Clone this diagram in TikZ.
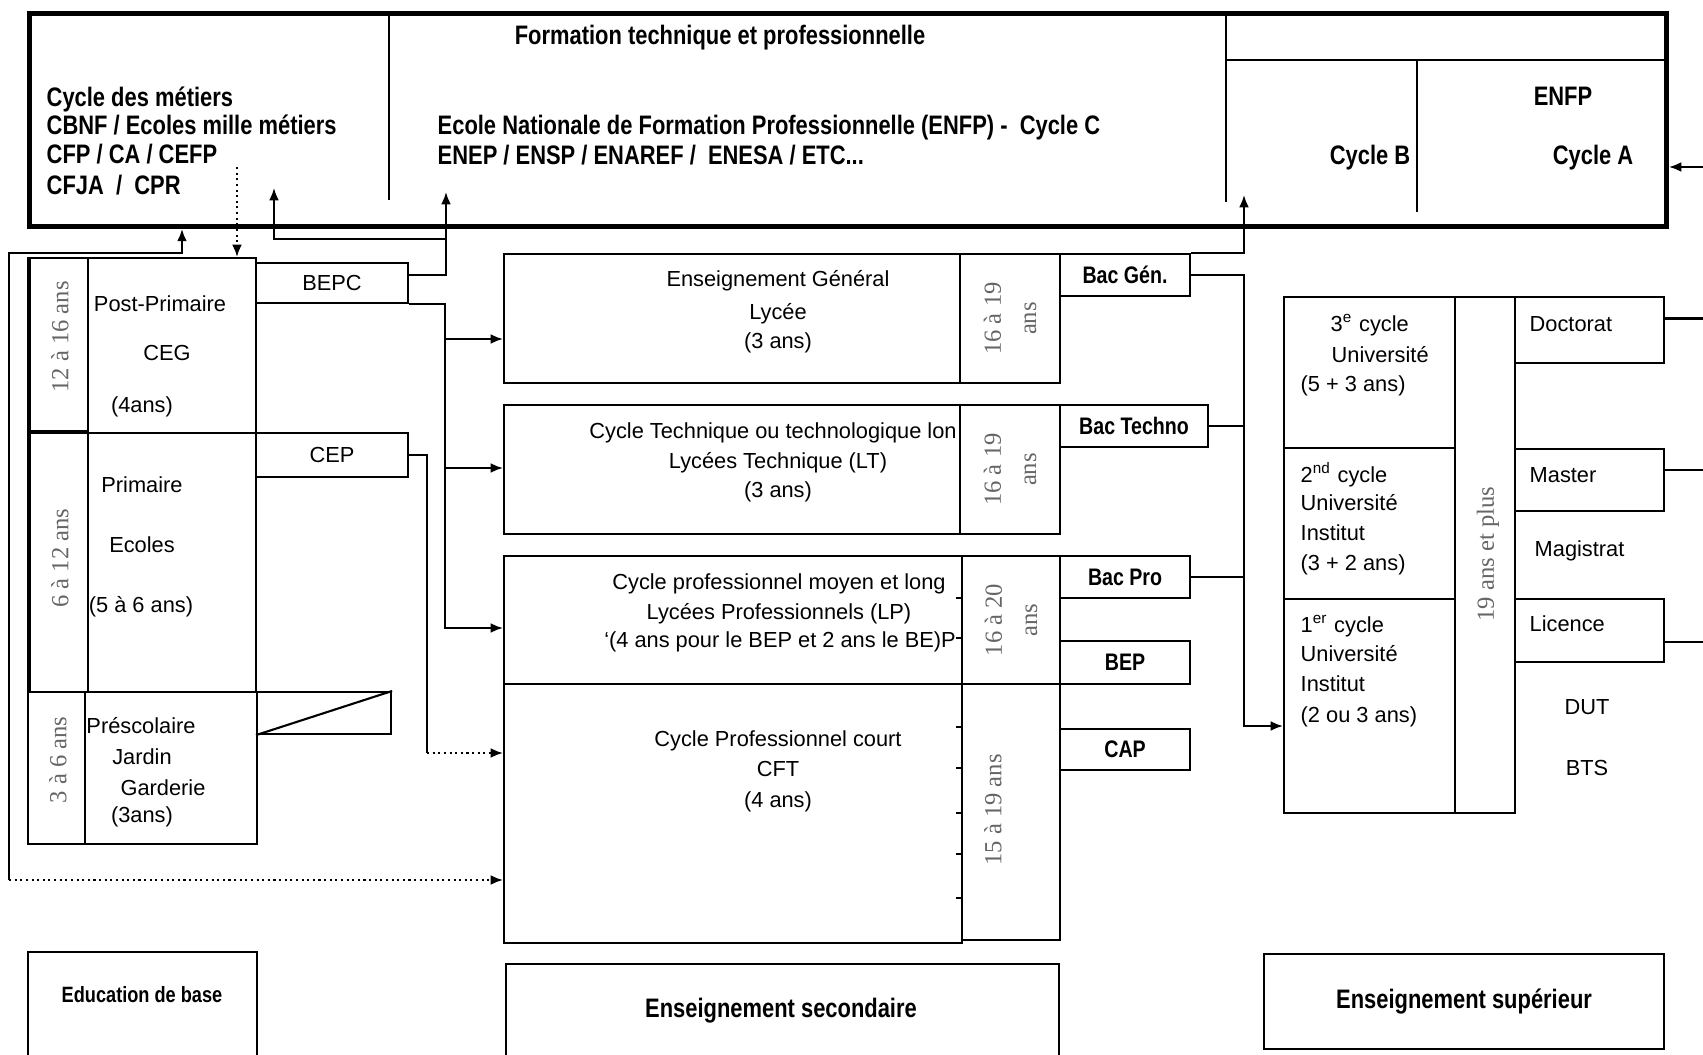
\documentclass[tikz,border=0pt]{standalone}
\usepackage{fontspec}
\setmainfont{Liberation Sans}
\newfontfamily\narrowbf[FakeStretch=0.82]{Liberation Sans Bold}
\newfontfamily\agefont{Liberation Serif}
\usetikzlibrary{arrows.meta,calc}
\definecolor{agegray}{gray}{0.4}

\begin{document}
\begin{tikzpicture}[x=0.01cm, y=-0.01cm,
  box/.style={draw, line width=0.6pt, anchor=north west, inner sep=0pt},
  wh/.style 2 args={minimum width=#1*0.01cm, minimum height=#2*0.01cm},
  txt/.style={font=\fontsize{6.2}{7.5}\selectfont, inner sep=0pt, anchor=mid},
  btxt/.style={font=\narrowbf\fontsize{7.6}{9}\selectfont, inner sep=0pt, anchor=mid},
  bactxt/.style={font=\narrowbf\fontsize{6.8}{8}\selectfont},
  age/.style={font=\agefont\fontsize{7}{10}\selectfont, text=agegray, rotate=90, align=center, inner sep=0pt},
  conn/.style={line width=0.6pt},
  dotline/.style={line width=0.6pt, densely dotted},
  arr/.style={-{Latex[length=3.5pt,width=2.8pt]}}
]
\useasboundingbox (0,0) rectangle (1703,1055);
\fill[white] (0,0) rectangle (1703,1055);

% Formation technique et professionnelle
\node[box, wh={1637}{213}, line width=1.4pt] (topbox) at (27,11) {};
\draw[conn] (389,11) -- (389,200);
\draw[conn] (1226,11) -- (1226,202);
\draw[conn] (1226,60) -- (1664,60);
\draw[conn] (1417,60) -- (1417,212);
\node[btxt] (ftp) at (720,35) {Formation technique et professionnelle};
\node[btxt, anchor=mid west] (met1) at (46,97) {Cycle des métiers};
\node[btxt, anchor=mid west] (met2) at (46,125) {CBNF / Ecoles mille métiers};
\node[btxt, anchor=mid west] (met3) at (46,154) {CFP / CA / CEFP};
\node[btxt, anchor=mid west] (met4) at (46,185) {CFJA\ \ /\ \ CPR};
\node[btxt, anchor=mid west] (enfp1) at (437,125) {Ecole Nationale de Formation Professionnelle (ENFP) -\ \ Cycle C};
\node[btxt, anchor=mid west] (enfp2) at (437,155) {ENEP / ENSP / ENAREF /\ \ ENESA / ETC...};
\node[btxt] (enfp) at (1563,96) {ENFP};
\node[btxt] (cycb) at (1370,155) {Cycle B};
\node[btxt] (cyca) at (1593,155) {Cycle A};

% Education de base
\node[box, wh={58}{175}] (agea) at (29,257) {};
\node[box, wh={168}{175}] (postp) at (87,257) {};
\node[box, wh={58}{259}] (ageb) at (29,432) {};
\node[box, wh={168}{259}] (prim) at (87,432) {};
\node[box, wh={57}{152}] (agec) at (27,691) {};
\node[box, wh={172}{152}] (presc) at (84,691) {};
\draw[line width=1.2pt] (29,257) -- (29,691);
\draw[line width=1.2pt] (29,432) -- (87,432);
\node[txt, box, wh={152}{40}] (bepc) at (255,262) {BEPC};
\node[txt, box, wh={152}{44}] (cep) at (255,432) {CEP};
\node[box, wh={134}{42}] (pside) at (256,691) {};
\draw[conn] (pside.south west) -- (pside.north east);
\node[age] (agea-t) at (60,337) {12 à 16 ans};
\node[age] (ageb-t) at (60,558) {6 à 12 ans};
\node[age] (agec-t) at (58,760) {3 à 6 ans};
\node[txt] (pp1) at (160,302) {Post-Primaire};
\node[txt] (pp2) at (167,351) {CEG};
\node[txt] (pp3) at (142,403) {(4ans)};
\node[txt] (pr1) at (142,483) {Primaire};
\node[txt] (pr2) at (142,543) {Ecoles};
\node[txt] (pr3) at (141,603) {(5 à 6 ans)};
\node[txt] (ps1) at (141,724) {Préscolaire};
\node[txt] (ps2) at (142,755) {Jardin};
\node[txt] (ps3) at (163,786) {Garderie};
\node[txt] (ps4) at (142,813) {(3ans)};
\node[box, wh={229}{130}] (basebox) at (27,951) {};
\node[btxt, font=\narrowbf\fontsize{6.3}{7}\selectfont] (base-t) at (142,993) {Education de base};

% Enseignement secondaire
\node[box, wh={456}{129}] (eg) at (503,253) {};
\node[box, wh={100}{129}] (egage) at (959,253) {};
\node[box, wh={456}{129}] (ct) at (503,404) {};
\node[box, wh={100}{129}] (ctage) at (959,404) {};
\node[box, wh={458}{128}] (cp) at (503,555) {};
\node[box, wh={98}{128}] (cpage) at (961,555) {};
\node[box, wh={458}{259}] (cpc) at (503,683) {};
\node[box, wh={98}{256}] (cpcage) at (961,683) {};
\foreach \ty in {598,638,727,768,813,854,898}
  \draw[conn] (956,\ty) -- (961,\ty);
\node[txt] (eg1) at (778,277) {Enseignement Général};
\node[txt] (eg2) at (778,310) {Lycée};
\node[txt] (eg3) at (778,339) {(3 ans)};
\node[txt] (ct1) at (773,429) {Cycle Technique ou technologique lon};
\node[txt] (ct2) at (778,459) {Lycées Technique (LT)};
\node[txt] (ct3) at (778,488) {(3 ans)};
\node[txt] (cp1) at (779,580) {Cycle professionnel moyen et long};
\node[txt] (cp2) at (779,610) {Lycées Professionnels (LP)};
\node[txt] (cp3) at (780,638) {‘(4 ans pour le BEP et 2 ans le BE)P};
\node[txt] (cpc1) at (778,737) {Cycle Professionnel court};
\node[txt] (cpc2) at (778,767) {CFT};
\node[txt] (cpc3) at (778,798) {(4 ans)};
\node[age] (egage-t) at (egage.center) {16 à 19\\ans};
\node[age] (ctage-t) at (ctage.center) {16 à 19\\ans};
\node[age] (cpage-t) at (cpage.center) {16 à 20\\ans};
\node[age] (cpcage-t) at (993,810) {15 à 19 ans};
\node[bactxt, box, wh={130}{42}] (bacgen) at (1059,253) {Bac Gén.};
\node[bactxt, box, wh={148}{42}] (bactech) at (1059,404) {Bac Techno};
\node[bactxt, box, wh={130}{42}] (bacpro) at (1059,555) {Bac Pro};
\node[bactxt, box, wh={130}{43}] (bep) at (1059,640) {BEP};
\node[bactxt, box, wh={130}{41}] (cap) at (1059,728) {CAP};
\node[box, wh={553}{130}] (secbox) at (505,963) {};
\node[btxt] (sec-t) at (781,1008) {Enseignement secondaire};

% Enseignement superieur
\node[box, wh={171}{151}] (univ3) at (1283,296) {};
\node[box, wh={171}{151}] (univ2) at (1283,447) {};
\node[box, wh={171}{214}] (univ1) at (1283,598) {};
\node[box, wh={60}{516}] (uage) at (1454,296) {};
\node[txt, box, wh={149}{66}] (doct) at (1514,296) {};
\node[txt, box, wh={149}{62}] (mast) at (1514,448) {};
\node[txt, box, wh={149}{63}] (lic) at (1514,598) {};
\node[age] (uage-t) at (1488,554) {19 ans et plus};
\node[txt, anchor=mid west] (u31) at (1330,322) {3\textsuperscript{e} cycle};
\node[txt, anchor=mid west] (u32) at (1331,353) {Université};
\node[txt, anchor=mid west] (u33) at (1300,382) {(5 + 3 ans)};
\node[txt, anchor=mid west] (u21) at (1300,473) {2\textsuperscript{nd} cycle};
\node[txt, anchor=mid west] (u22) at (1300,501) {Université};
\node[txt, anchor=mid west] (u23) at (1300,531) {Institut};
\node[txt, anchor=mid west] (u24) at (1300,561) {(3 + 2 ans)};
\node[txt, anchor=mid west] (u11) at (1300,623) {1\textsuperscript{er} cycle};
\node[txt, anchor=mid west] (u12) at (1300,652) {Université};
\node[txt, anchor=mid west] (u13) at (1300,682) {Institut};
\node[txt, anchor=mid west] (u14) at (1300,713) {(2 ou 3 ans)};
\node[txt, anchor=mid west] (doct-t) at (1529,322) {Doctorat};
\node[txt, anchor=mid west] (mast-t) at (1529,473) {Master};
\node[txt, anchor=mid west] (magi-t) at (1534,547) {Magistrat};
\node[txt, anchor=mid west] (lic-t) at (1529,622) {Licence};
\node[txt] (dut-t) at (1587,705) {DUT};
\node[txt] (bts-t) at (1587,766) {BTS};
\node[btxt, box, wh={400}{95}] (supbox) at (1263,953) {Enseignement supérieur};

% Connectors
\coordinate (metup) at (274,188);
\coordinate (bepcup) at (446,192);
\coordinate (cycbup) at (1244,195);
\coordinate (metdown) at (237,167);
\coordinate (bepcbus) at (445,628);
\coordinate (cepbus) at (427,753);
\coordinate (leftbus) at (9,880);
\coordinate (bacbus) at (1244,726);
\draw[conn, arr] ($(bepc.north east)!0.3!(bepc.south east)$) -| (bepcup);
\draw[conn, arr] (bepcup |- 0,239) -| (metup);
\draw[dotline, arr] (metdown) -- (postp.north -| metdown);
\draw[conn, arr] (leftbus) |- ($(topbox.south west)+(155,24)$) -- ($(topbox.south west)+(155,0)$);
\draw[dotline, arr] (leftbus) -- (cpc.west |- leftbus);
\draw[conn, arr] (bepc.south east) -| (bepcbus) -- (cp.west |- bepcbus);
\draw[conn, arr] (bepcbus |- 0,339) -- (eg.west |- 0,339);
\draw[conn, arr] (bepcbus |- 0,468) -- (ct.west |- 0,468);
\draw[conn] (cep.east) -| (cepbus);
\draw[dotline, arr] (cepbus) -- (cpc.west |- cepbus);
\draw[conn, arr] (bacgen.north east) -| (cycbup);
\draw[conn, arr] (bacgen.east) -| (bacbus) -- (univ1.west |- bacbus);
\draw[conn] (bactech.east) -- (bactech.east -| bacbus);
\draw[conn] (bacpro.east) -- (bacpro.east -| bacbus);
\draw[conn, arr] (1703,167) -- (topbox.east |- 0,167);
\draw[conn] ($(doct.north east)!0.33!(doct.south east)$) -- ++(40,0);
\draw[conn] ($(mast.north east)!0.34!(mast.south east)$) -- ++(40,0);
\draw[conn] ($(lic.north east)!0.67!(lic.south east)$) -- ++(40,0);
\end{tikzpicture}
\end{document}
